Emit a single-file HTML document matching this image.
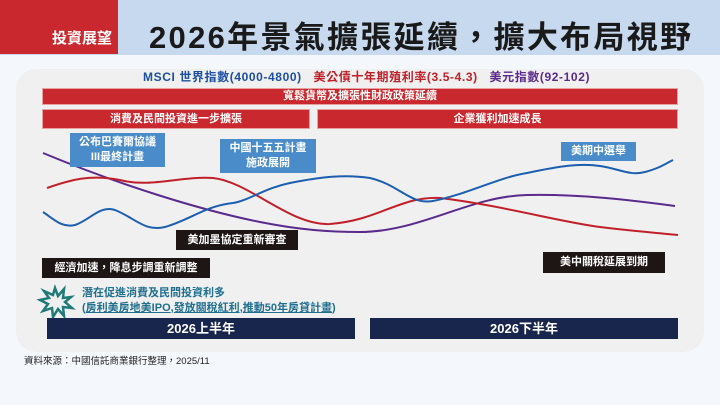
<!DOCTYPE html>
<html><head><meta charset="utf-8"><style>
body{margin:0;width:720px;height:405px;background:#f4f8fc;font-family:"Liberation Sans","Noto Sans CJK TC",sans-serif;position:relative;overflow:hidden}
.a{position:absolute;box-sizing:border-box;font-weight:bold;text-align:center;white-space:nowrap}
.red{background:#c8282e;color:#fff;font-size:11px;border:1px solid #e8a0a0}
.blu{background:#4a8cc9;color:#fff;font-size:11px;line-height:15px}
.blk{background:#1e1614;color:#fff;font-size:11px}
.nav{background:#18254d;color:#fff;font-size:13px;line-height:21px}
</style></head><body>
<div class="a" style="left:0;top:0;width:720px;height:55px;background:#c7d9ef"></div>
<div class="a" style="left:0;top:0;width:118px;height:54px;background:#c8282e;color:#fff;font-size:15px;line-height:15px;padding-top:31px;padding-right:6px;text-align:right">投資展望</div>
<div class="a" style="left:149px;top:13px;font-size:31px;color:#1a1a1a;line-height:50px;letter-spacing:2.3px">2026年景氣擴張延續，擴大布局視野</div>
<div class="a" style="left:16px;top:69px;width:688px;height:283px;background:#f0f0f0;border-radius:20px"></div>
<div class="a" style="left:143px;top:70px;font-size:12px;line-height:15px;text-align:left;letter-spacing:0.6px"><span style="color:#1c4fa0">MSCI 世界指數(4000-4800)</span>&nbsp;&nbsp; <span style="color:#c0202a">美公債十年期殖利率(3.5-4.3)</span>&nbsp;&nbsp; <span style="color:#5a2a8c">美元指數(92-102)</span></div>
<div class="a red" style="left:42px;top:88px;width:636px;height:17px;line-height:15px">寬鬆貨幣及擴張性財政政策延續</div>
<div class="a red" style="left:42px;top:109px;width:268px;height:20px;line-height:18px">消費及民間投資進一步擴張</div>
<div class="a red" style="left:317px;top:109px;width:361px;height:20px;line-height:18px">企業獲利加速成長</div>
<svg style="position:absolute;left:0;top:0" width="720" height="405">
<path d="M43,153 C120,185 200,210 260,222 C300,230 330,232 360,232 C420,232 470,196 527,195 C580,194 630,200 675,206" fill="none" stroke="#5a2a8c" stroke-width="2"/>
<path d="M47,188 C70,180 90,174 120,180 C150,188 180,176 213,178 C250,182 290,226 330,224 C380,220 400,196 440,198 C500,205 560,222 600,227 C640,232 660,233 678,235" fill="none" stroke="#c0202a" stroke-width="2"/>
<path d="M43,212 C55,220 62,228 75,225 C90,220 100,205 115,210 C135,218 145,232 165,227 C190,220 205,206 233,203 C250,200 265,188 290,183 C320,177 345,174 370,178 C400,185 410,205 433,201 C465,195 500,177 527,173 C560,166 580,163 600,166 C620,169 630,176 645,172 C660,168 665,164 673,160" fill="none" stroke="#1c5fb0" stroke-width="2"/>
<polygon points="55,288 58,296 64,289 63,298 71,297 65,302 72,308 63,307 64,316 58,309 53,317 52,308 43,311 48,304 40,300 49,298 44,291 53,295" fill="none" stroke="#1f7a78" stroke-width="2.5"/>
</svg>
<div class="a blu" style="left:70px;top:133px;width:95px;height:34px;padding-top:2px">公布巴賽爾協議<br>III最終計畫</div>
<div class="a blu" style="left:220px;top:139px;width:96px;height:34px;padding-top:2px">中國十五五計畫<br>施政展開</div>
<div class="a blu" style="left:561px;top:142px;width:75px;height:19px;line-height:19px">美期中選舉</div>
<div class="a blk" style="left:176px;top:230px;width:122px;height:20px;line-height:20px">美加墨協定重新審查</div>
<div class="a blk" style="left:42px;top:258px;width:168px;height:20px;line-height:20px">經濟加速，降息步調重新調整</div>
<div class="a blk" style="left:543px;top:252px;width:122px;height:21px;line-height:21px">美中關稅延展到期</div>
<div class="a" style="left:82px;top:286px;font-size:11px;line-height:15px;color:#1f6f8f;text-align:left">潛在促進消費及民間投資利多<br>(<u>房利美房地美IPO</u>,<u>發放關稅紅利</u>,<u>推動50年房貸計畫</u>)</div>
<div class="a nav" style="left:47px;top:318px;width:308px;height:21px">2026上半年</div>
<div class="a nav" style="left:370px;top:318px;width:308px;height:21px">2026下半年</div>
<div class="a" style="left:24px;top:356px;font-size:9.5px;font-weight:normal;color:#222;line-height:12px">資料來源：中國信託商業銀行整理，2025/11</div>
</body></html>
